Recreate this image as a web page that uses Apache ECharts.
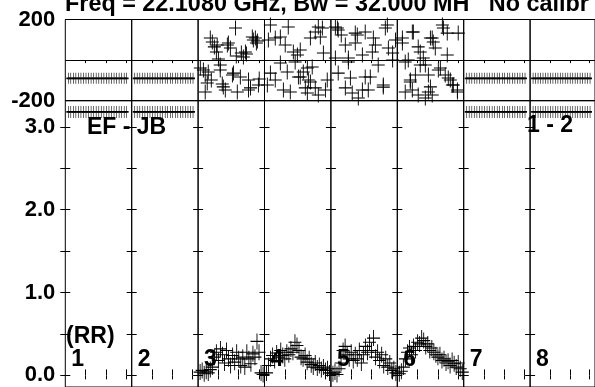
<!DOCTYPE html>
<html><head><meta charset="utf-8">
<script src="https://cdn.jsdelivr.net/npm/echarts@6/dist/echarts.min.js"></script>
<style>html,body{margin:0;padding:0;background:#fff;overflow:hidden}#c{width:595px;height:387px}</style>
</head><body><div id="c"></div>
<script>
// ---------- texts ----------
const titleText = 'Freq = 22.1080 GHz, Bw = 32.000 MH   No calibr';
const baselineLabel = 'EF - JB';
const polLabel = '(RR)';
const stokesLabel = '1 - 2';
const ifLabels = ['1', '2', '3', '4', '5', '6', '7', '8'];

// ---------- axes ----------
const phaseMin = -200, phaseMax = 200, phaseGridStep = 200;
const phaseLabelValues = [-200, 200];
const ampMin = -0.14, ampMax = 3.315;
const ampTickValues = [0, 0.5, 1.0, 1.5, 2.0, 2.5, 3.0];
const ampLabelValues = [0, 1.0, 2.0, 3.0];
const timeMax = 3.27;
const timeTickValues = [1, 2, 3];

// ---------- data: phase (deg) vs time, IFs 3-6 ----------
const phaseIF3 = [[0.11,-39],[0.26,-49],[0.35,-73],[0.45,-113],[0.35,-157],[0.50,-59],[0.60,109],[0.70,89],[0.80,65],[0.90,40],[0.94,74],[1.00,5],[1.09,-24],[1.09,-49],[1.24,-132],[1.34,-147],[1.44,74],[1.49,84],[1.59,60],[1.69,-73],[1.74,-64],[1.84,158],[1.88,20],[1.93,-157],[2.08,-83],[2.13,35],[2.23,15],[2.33,40],[2.38,30],[2.48,-98],[2.48,-147],[2.58,-137],[2.67,114],[2.72,99],[2.82,109],[2.87,84],[2.92,94],[3.01,-93],[2.97,-123],[1.19,-118],[0.65,-98]];
const phaseIF4 = [[0.29,173],[1.17,163],[0.53,109],[0.78,114],[0.19,99],[1.42,40],[1.62,25],[1.76,50],[2.65,163],[2.75,114],[2.26,109],[0.78,-14],[1.12,-59],[0.29,-64],[0.53,-98],[0.93,-147],[1.27,-157],[1.76,-83],[2.11,-39],[2.26,-108],[2.50,-137],[2.65,-172],[3.09,-98],[0.14,-123],[2.11,-162],[1.91,-59],[2.16,-98],[2.85,158],[2.90,35],[1.67,-83],[2.01,-137],[2.35,-34],[3.00,-147],[2.50,138],[1.02,74],[1.51,-9]];
const phaseIF5 = [[0.22,163],[0.36,148],[1.30,124],[1.20,84],[0.71,74],[1.69,138],[2.68,158],[2.78,173],[2.19,74],[1.55,25],[2.04,40],[2.83,60],[2.33,-24],[0.36,-64],[0.96,-88],[1.69,-83],[0.71,-137],[1.05,-162],[1.84,-147],[2.58,-133],[1.35,-187],[0.22,10],[0.86,-9],[3.04,0],[0.32,158],[1.20,133],[2.09,109],[1.94,-83],[3.18,99],[3.04,35],[0.86,10],[1.55,-147],[2.58,-123],[0.51,124]];
const phaseIF6 = [[0.25,109],[0.39,-9],[0.54,0],[0.79,138],[1.03,65],[1.13,40],[1.28,10],[1.38,-24],[1.53,-73],[1.63,-132],[1.72,-172],[0.64,-108],[0.89,-73],[1.72,109],[1.87,60],[2.27,158],[2.46,133],[2.12,-39],[2.36,-73],[2.61,-98],[2.76,-123],[2.96,-157],[0.39,-157],[1.03,-172],[1.38,-187],[0.74,138],[1.63,109],[1.77,89],[2.22,173],[3.00,133],[2.02,-49],[2.51,-88],[2.71,-123],[2.96,-147],[0.64,-98],[1.53,-157],[2.46,25],[0.74,-147],[0.25,84],[1.13,-24]];

// ---------- data: amplitude vs time, IFs 3-6 ----------
const ampTimes = [0.10,0.20,0.30,0.40,0.50,0.60,0.70,0.80,0.90,1.00,1.10,1.20,1.30,1.40,1.50,1.60,1.70,1.80,1.90,2.00,2.10,2.20,2.30,2.40,2.50,2.60,2.70,2.80,2.90,3.00,3.10,3.20];
const ampIF3 = [0.04,0.06,0.02,0.05,0.03,0.07,0.10,0.22,0.28,0.18,0.32,0.25,0.15,0.30,0.20,0.12,0.24,0.16,0.28,0.20,0.12,0.22,0.10,0.28,0.20,0.14,0.26,0.22,0.41,0.28,0.03,0.01];
const ampIF4 = [0.03,0.12,0.20,0.24,0.18,0.27,0.22,0.30,0.24,0.20,0.28,0.25,0.32,0.28,0.40,0.36,0.30,0.22,0.20,0.24,0.16,0.20,0.13,0.10,0.15,0.09,0.12,0.07,0.10,0.06,0.08,0.03];
const ampIF5 = [0.02,0.04,0.01,0.08,0.15,0.30,0.35,0.25,0.20,0.28,0.18,0.25,0.20,0.30,0.15,0.25,0.35,0.28,0.40,0.30,0.45,0.22,0.28,0.18,0.25,0.12,0.20,0.10,0.15,0.06,0.08,0.03];
const ampIF6 = [0.02,0.05,0.10,0.20,0.28,0.33,0.25,0.35,0.30,0.40,0.38,0.45,0.42,0.35,0.38,0.30,0.33,0.28,0.25,0.22,0.25,0.18,0.20,0.15,0.17,0.12,0.18,0.14,0.10,0.15,0.08,0.04];

// ---------- data: flagged IFs (1, 2, 7, 8) ----------
const flaggedIFs = [1, 2, 7, 8];
const flagTimes = [0.15,0.27,0.40,0.52,0.65,0.77,0.90,1.02,1.15,1.27,1.40,1.52,1.65,1.77,1.90,2.02,2.15,2.27,2.40,2.52,2.65,2.77,2.90,3.02];
const flagPhase = -90;
const flagAmp = 3.18;

const phaseByIF = {3: phaseIF3, 4: phaseIF4, 5: phaseIF5, 6: phaseIF6};
const ampByIF = {3: ampIF3, 4: ampIF4, 5: ampIF5, 6: ampIF6};

// ---------- layout ----------
const L0 = 65.3, CW = 66.4, TOP = 19.5, MID = 100.7, BOT = 389.5;
const FONT = 'Liberation Sans';
const crossPath = 'path://M0,1L2,1M1,0L1,2';
const crossStyle = {color: 'none', borderColor: '#000', borderWidth: 1, opacity: 1};
const tickStyle = {color: '#000', width: 1};

const grid = [], xAxis = [], yAxis = [], series = [];
for (let i = 0; i < 8; i++) {
  grid.push({left: L0 + CW * i, top: TOP, width: CW, height: MID - TOP, show: true, borderColor: '#000', borderWidth: 1});
}
for (let i = 0; i < 8; i++) {
  grid.push({left: L0 + CW * i, top: MID, width: CW, height: BOT - MID, show: true, borderColor: '#000', borderWidth: 1});
}
const labelBase = {color: '#000', fontFamily: FONT, fontWeight: 'bold', fontSize: 22, margin: 10};
for (let i = 0; i < 8; i++) {
  xAxis.push({type: 'value', gridIndex: i, position: 'top', min: 0, max: timeMax,
    axisLine: {show: false}, axisLabel: {show: false}, splitLine: {show: false},
    axisTick: {show: true, inside: true, length: 3, customValues: timeTickValues, lineStyle: tickStyle}});
}
for (let i = 0; i < 8; i++) {
  xAxis.push({type: 'value', gridIndex: 8 + i, position: 'bottom', min: 0, max: timeMax,
    axisLine: {show: false}, axisLabel: {show: false}, splitLine: {show: false},
    axisTick: {show: true, inside: true, length: 6, customValues: timeTickValues, lineStyle: tickStyle}});
}
for (let i = 0; i < 8; i++) {
  xAxis.push({type: 'value', gridIndex: 8 + i, position: 'top', min: 0, max: timeMax,
    axisLine: {show: false}, axisLabel: {show: false}, splitLine: {show: false},
    axisTick: {show: true, inside: true, length: 4, customValues: timeTickValues, lineStyle: tickStyle}});
}
for (let i = 0; i < 8; i++) {
  yAxis.push({type: 'value', gridIndex: i, min: phaseMin, max: phaseMax, interval: phaseGridStep,
    axisLine: {show: false}, axisTick: {show: false},
    splitLine: {show: true, lineStyle: {color: '#000', width: 1}},
    axisLabel: Object.assign({show: i === 0, customValues: phaseLabelValues, formatter: v => String(v)}, labelBase)});
}
for (let i = 0; i < 8; i++) {
  yAxis.push({type: 'value', gridIndex: 8 + i, position: 'left', min: ampMin, max: ampMax,
    axisLine: {show: false}, splitLine: {show: false},
    axisTick: {show: true, inside: true, length: 5, customValues: ampTickValues, lineStyle: tickStyle},
    axisLabel: Object.assign({show: i === 0, customValues: ampLabelValues, formatter: v => Number(v).toFixed(1)}, labelBase)});
}
for (let i = 0; i < 8; i++) {
  yAxis.push({type: 'value', gridIndex: 8 + i, position: 'right', min: ampMin, max: ampMax,
    axisLine: {show: false}, splitLine: {show: false}, axisLabel: {show: false},
    axisTick: {show: true, inside: true, length: 5, customValues: ampTickValues, lineStyle: tickStyle}});
}

for (let ifn = 1; ifn <= 8; ifn++) {
  const i = ifn - 1;
  if (phaseByIF[ifn]) {
    series.push({type: 'scatter', xAxisIndex: i, yAxisIndex: i, data: phaseByIF[ifn],
      symbol: crossPath, symbolSize: [13, 15], itemStyle: crossStyle, silent: true});
    series.push({type: 'scatter', xAxisIndex: 8 + i, yAxisIndex: 8 + i,
      data: ampTimes.map((t, k) => [t, ampByIF[ifn][k]]),
      symbol: crossPath, symbolSize: [13, 16], itemStyle: crossStyle, silent: true});
  }
  if (flaggedIFs.includes(ifn)) {
    series.push({type: 'scatter', xAxisIndex: i, yAxisIndex: i,
      data: flagTimes.map(t => [t, flagPhase]),
      symbol: crossPath, symbolSize: [4, 11], itemStyle: crossStyle, silent: true});
    series.push({type: 'scatter', xAxisIndex: 8 + i, yAxisIndex: 8 + i,
      data: flagTimes.map(t => [t, flagAmp]),
      symbol: crossPath, symbolSize: [4, 12], itemStyle: crossStyle, silent: true});
  }
}

const font23 = 'bold 23px "' + FONT + '"';
const graphic = [
  {type: 'text', x: 65, y: 5, silent: true, style: {text: titleText, fill: '#000', font: 'bold 23.4px "' + FONT + '"', verticalAlign: 'middle'}},
  {type: 'text', x: 87, y: 128, silent: true, style: {text: baselineLabel, fill: '#000', font: font23, verticalAlign: 'middle'}},
  {type: 'text', x: 527, y: 126, silent: true, style: {text: stokesLabel, fill: '#000', font: font23, verticalAlign: 'middle'}},
  {type: 'text', x: 66, y: 337, silent: true, style: {text: polLabel, fill: '#000', font: font23, verticalAlign: 'middle'}}
];
ifLabels.forEach((s, i) => {
  graphic.push({type: 'text', x: L0 + CW * i + 6, y: 360, silent: true,
    style: {text: s, fill: '#000', font: font23, verticalAlign: 'middle'}});
});

const chart = echarts.init(document.getElementById('c'), null, {renderer: 'canvas'});
chart.setOption({animation: false, backgroundColor: '#fff', grid, xAxis, yAxis, series, graphic});
</script></body></html>
